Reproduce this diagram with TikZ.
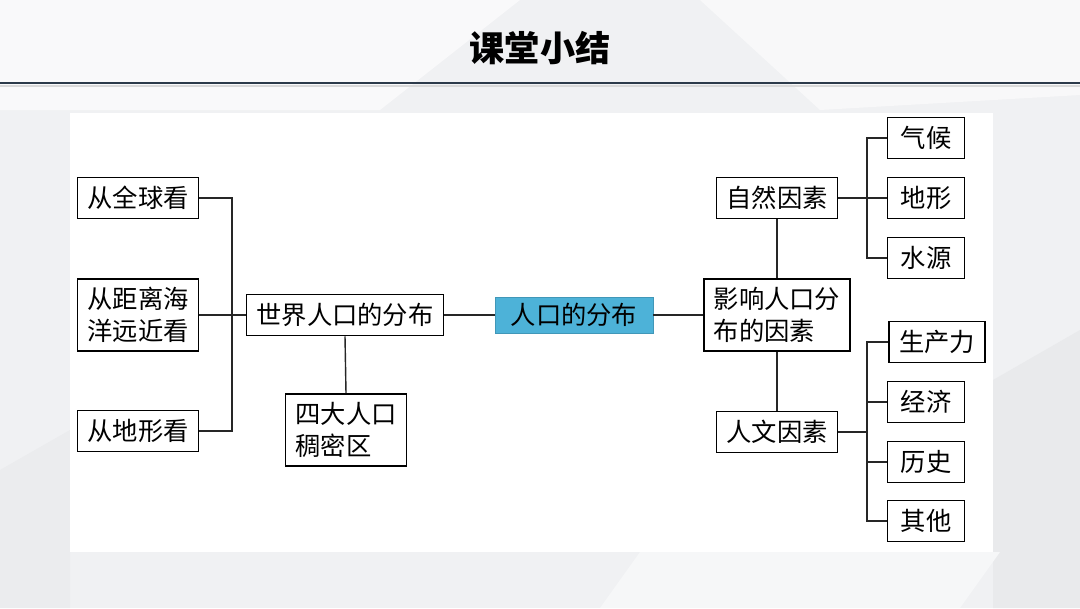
\documentclass[tikz,border=0pt]{standalone}
\usepackage{fontspec}
\setmainfont{Noto Sans CJK SC}
\newfontfamily\cjk{Noto Sans CJK SC}
\usepackage{xcolor}
\usetikzlibrary{positioning,calc}
\definecolor{hubblue}{RGB}{77,178,216}
\definecolor{pagegray}{RGB}{240,241,243}
\definecolor{rulecol}{RGB}{44,58,74}

\begin{document}
\begin{tikzpicture}[
                x=0.025cm, y=-0.025cm,
                font=\cjk\fontsize{18}{22.5}\selectfont,
                box/.style={draw, line width=1.2pt, align=center, inner xsep=0.25cm, inner ysep=0pt, minimum height=1.02cm, fill=white},
                tall/.style={box, align=left, minimum height=1.8cm},
                short/.style={box, minimum width=1.93cm},
                hub/.style={align=center, inner xsep=0.25cm, minimum width=3.95cm, minimum height=0.9cm, fill=hubblue, draw=hubblue!85!black, line width=0.6pt},
                link/.style={line width=1pt, draw=black!85}
            ]
            \useasboundingbox (0,0) rectangle (1080,608);
            % background
            \fill[pagegray] (0,0) rectangle (1080,608);
            \fill[white!60!pagegray] (0,0) -- (520,0) -- (380,110) -- (0,110) -- cycle;
            \fill[white!50!pagegray] (700,0) -- (1080,0) -- (1080,95) -- (820,110) -- cycle;
            \fill[black!2!pagegray] (0,470) -- (70,430) -- (70,608) -- (0,608) -- cycle;
            \fill[black!3!pagegray] (993,380) -- (1080,330) -- (1080,608) -- (993,608) -- cycle;
            \fill[white!40!pagegray] (640,552) -- (1000,552) -- (960,608) -- (600,608) -- cycle;
            \fill[white] (70,113) rectangle (993,552);
            % title
            \node[font=\cjk\bfseries\fontsize{25}{30}\selectfont] (title) at (540,48) {课堂小结};
            \draw[black!15, line width=2pt] (0,86) -- (1080,86);
            \draw[rulecol, line width=1.2pt] (0,83) -- (1080,83);

            % left branch
            \node[box] (qq) at (138,198) {从全球看};
            \node[tall] (hy) at (138,315) {从距离海\\洋远近看};
            \node[box] (dx) at (138,431) {从地形看};
            \node[box] (world) at (345,315) {世界人口的分布};
            \node[tall] (dense) at (346,430) {四大人口\\稠密区};
            \coordinate (lbar) at (232,315);

            % centre
            \node[hub] (main) at (574,315) {人口的分布};

            % right branch
            \node[tall] (factor) at (777,315) {影响人口分\\布的因素};
            \node[box] (nature) at (777,198) {自然因素};
            \node[box] (human) at (777,432) {人文因素};
            \node[short] (qh) at (926,138) {气候};
            \node[short] (dx2) at (926,198) {地形};
            \node[short] (sy) at (926,258) {水源};
            \node[box] (scl) at (937,342) {生产力};
            \node[short] (jj) at (926,402) {经济};
            \node[short] (ls) at (926,462) {历史};
            \node[short] (qt) at (926,521) {其他};
            \coordinate (rtop) at (867,198);
            \coordinate (rbot) at (867,432);

            \draw[link] (qq.east) -| (lbar) |- (dx.east);
            \draw[link] (hy.east) -- (world.west);
            \draw[link] (world.south) -- (dense.north);
            \draw[link] (world.east) -- (main.west);
            \draw[link] (main.east) -- (factor.west);
            \draw[link] (factor.north) -- (nature.south);
            \draw[link] (factor.south) -- (human.north);
            \draw[link] (nature.east) -- (rtop);
            \draw[link] (qh.west) -| (rtop) |- (sy.west);
            \draw[link] (rtop) -- (dx2.west);
            \draw[link] (human.east) -- (rbot);
            \draw[link] (scl.west) -| (rbot) |- (qt.west);
            \draw[link] (jj.west) -| (rbot);
            \draw[link] (ls.west) -| (rbot);
        \end{tikzpicture}
\end{document}
